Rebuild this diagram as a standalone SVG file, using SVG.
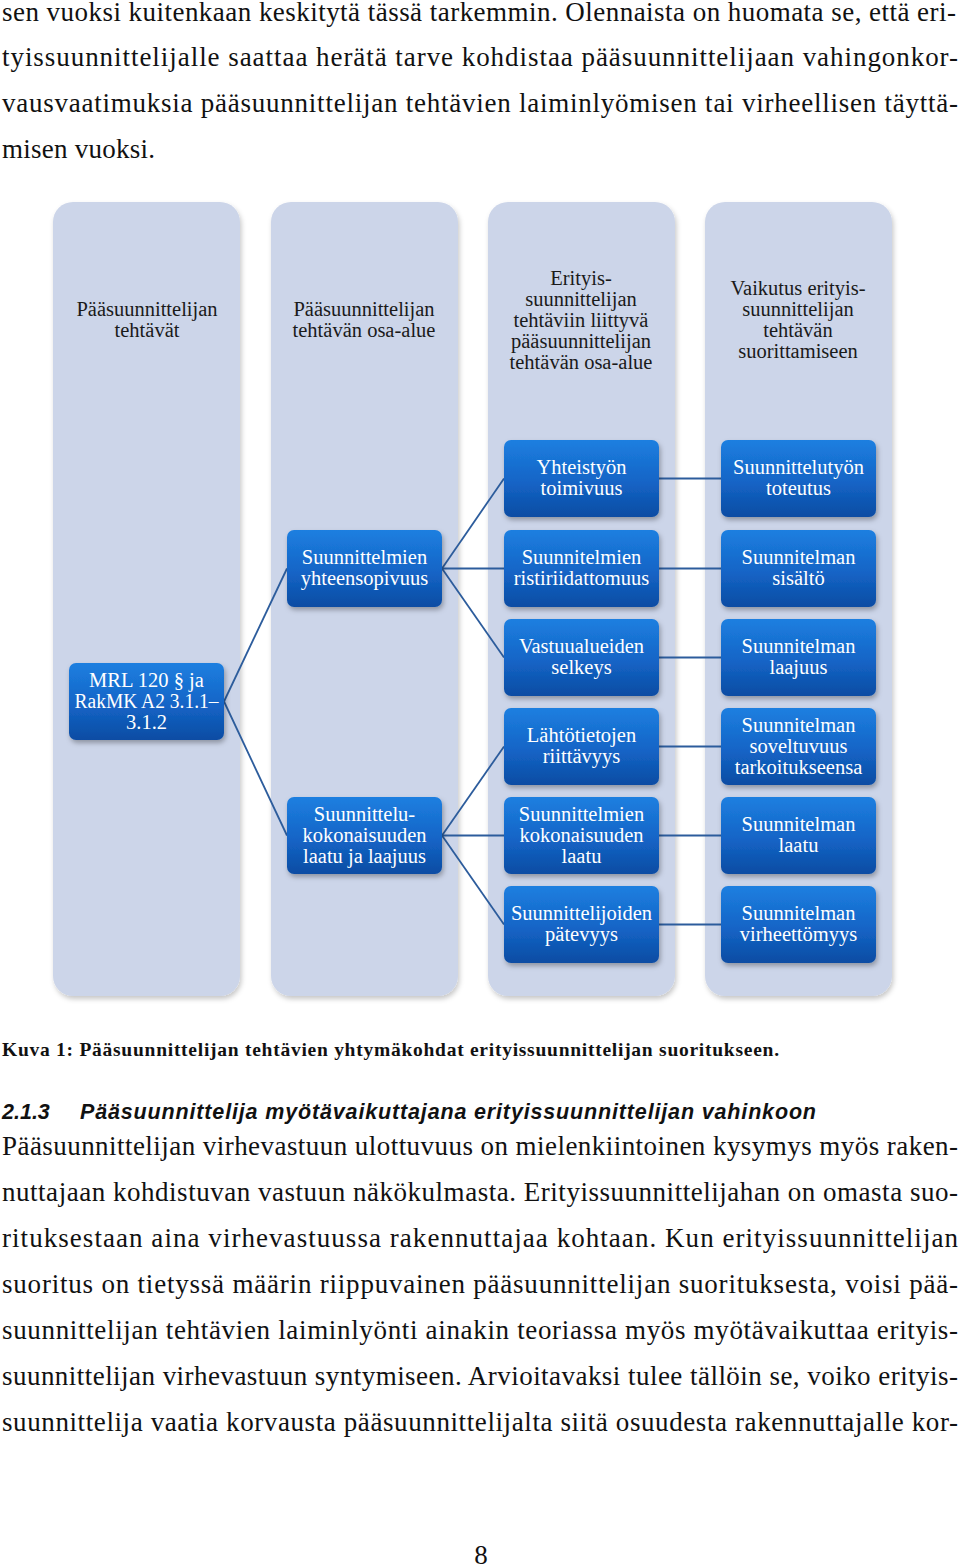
<svg xmlns="http://www.w3.org/2000/svg" width="960" height="1568" viewBox="0 0 960 1568">
<style>
.body{font-family:"Liberation Serif","Times New Roman",serif;font-size:27px;fill:#111}
.cap{font-family:"Liberation Serif","Times New Roman",serif;font-size:19.5px;font-weight:bold;fill:#111}
.hd{font-family:"Liberation Sans",Arial,sans-serif;font-size:21.5px;font-weight:bold;font-style:italic;fill:#111}
.col{fill:#ccd5e9}
.ct{font-family:"Liberation Serif","Times New Roman",serif;font-size:20.5px;fill:#1a1a1a;text-anchor:middle}
.nt{font-family:"Liberation Serif","Times New Roman",serif;font-size:20.5px;fill:#ffffff;text-anchor:middle}
.node{fill:url(#ng)}
.conn line{stroke:#2c5c9c;stroke-width:1.8}
</style>
<defs>
<linearGradient id="ng" x1="0" y1="0" x2="0" y2="1">
<stop offset="0" stop-color="#1d7fe0"/>
<stop offset="0.55" stop-color="#1464c6"/>
<stop offset="1" stop-color="#0b4ca3"/>
</linearGradient>
<filter id="sh" x="-10%" y="-10%" width="125%" height="125%">
<feDropShadow dx="1.5" dy="3" stdDeviation="2.5" flood-color="#000" flood-opacity="0.3"/>
</filter>
<filter id="csh" x="-10%" y="-5%" width="125%" height="115%">
<feDropShadow dx="1.5" dy="3" stdDeviation="2.5" flood-color="#000" flood-opacity="0.22"/>
</filter>
</defs>
<rect width="960" height="1568" fill="#ffffff"/>

<g id="text-top">
<text class="body" x="2" y="21" textLength="954" lengthAdjust="spacing">sen vuoksi kuitenkaan keskitytä tässä tarkemmin. Olennaista on huomata se, että eri-</text>
<text class="body" x="2" y="66" textLength="956" lengthAdjust="spacing">tyissuunnittelijalle saattaa herätä tarve kohdistaa pääsuunnittelijaan vahingonkor-</text>
<text class="body" x="2" y="112" textLength="956" lengthAdjust="spacing">vausvaatimuksia pääsuunnittelijan tehtävien laiminlyömisen tai virheellisen täyttä-</text>
<text class="body" x="2" y="158" textLength="153" lengthAdjust="spacing">misen vuoksi.</text>
</g>

<g id="columns">
<g id="col1"><rect class="col" x="53" y="202" width="187" height="794" rx="20" filter="url(#csh)"/>
<text class="ct" x="147" y="316">Pääsuunnittelijan</text><text class="ct" x="147" y="337">tehtävät</text></g>
<g id="col2"><rect class="col" x="271" y="202" width="187" height="794" rx="20" filter="url(#csh)"/>
<text class="ct" x="364" y="316">Pääsuunnittelijan</text><text class="ct" x="364" y="337">tehtävän osa-alue</text></g>
<g id="col3"><rect class="col" x="488" y="202" width="187" height="794" rx="20" filter="url(#csh)"/>
<text class="ct" x="581" y="285">Erityis-</text><text class="ct" x="581" y="306">suunnittelijan</text><text class="ct" x="581" y="327">tehtäviin liittyvä</text><text class="ct" x="581" y="348">pääsuunnittelijan</text><text class="ct" x="581" y="369">tehtävän osa-alue</text></g>
<g id="col4"><rect class="col" x="705" y="202" width="187" height="794" rx="20" filter="url(#csh)"/>
<text class="ct" x="798" y="295">Vaikutus erityis-</text><text class="ct" x="798" y="316">suunnittelijan</text><text class="ct" x="798" y="337">tehtävän</text><text class="ct" x="798" y="358">suorittamiseen</text></g>
</g>

<g id="connectors" class="conn">
<line x1="224" y1="701.5" x2="287" y2="568.5"/>
<line x1="224" y1="701.5" x2="287" y2="835.5"/>
<line x1="442" y1="568.5" x2="504" y2="478.5"/>
<line x1="442" y1="568.5" x2="504" y2="568.5"/>
<line x1="442" y1="568.5" x2="504" y2="657.5"/>
<line x1="442" y1="835.5" x2="504" y2="746.5"/>
<line x1="442" y1="835.5" x2="504" y2="835.5"/>
<line x1="442" y1="835.5" x2="504" y2="924.5"/>
<line x1="659" y1="478.5" x2="721" y2="478.5"/>
<line x1="659" y1="568.5" x2="721" y2="568.5"/>
<line x1="659" y1="657.5" x2="721" y2="657.5"/>
<line x1="659" y1="746.5" x2="721" y2="746.5"/>
<line x1="659" y1="835.5" x2="721" y2="835.5"/>
<line x1="659" y1="924.5" x2="721" y2="924.5"/>
</g>

<g id="n-mrl"><rect class="node" x="69" y="663" width="155" height="77" rx="7" filter="url(#sh)"/>
<text class="nt" x="146.5" y="687">MRL 120 § ja</text><text class="nt" x="146.5" y="708" textLength="144" lengthAdjust="spacingAndGlyphs">RakMK A2 3.1.1–</text><text class="nt" x="146.5" y="729">3.1.2</text></g>

<g id="n-yhteensopivuus"><rect class="node" x="287" y="530" width="155" height="77" rx="7" filter="url(#sh)"/>
<text class="nt" x="364.5" y="564">Suunnittelmien</text><text class="nt" x="364.5" y="585">yhteensopivuus</text></g>
<g id="n-kokonaisuus"><rect class="node" x="287" y="797" width="155" height="77" rx="7" filter="url(#sh)"/>
<text class="nt" x="364.5" y="821">Suunnittelu-</text><text class="nt" x="364.5" y="842">kokonaisuuden</text><text class="nt" x="364.5" y="863">laatu ja laajuus</text></g>

<g id="n-yhteistyo"><rect class="node" x="504" y="440" width="155" height="77" rx="7" filter="url(#sh)"/>
<text class="nt" x="581.5" y="474">Yhteistyön</text><text class="nt" x="581.5" y="495">toimivuus</text></g>
<g id="n-ristiriidattomuus"><rect class="node" x="504" y="530" width="155" height="77" rx="7" filter="url(#sh)"/>
<text class="nt" x="581.5" y="564">Suunnitelmien</text><text class="nt" x="581.5" y="585">ristiriidattomuus</text></g>
<g id="n-vastuualueet"><rect class="node" x="504" y="619" width="155" height="77" rx="7" filter="url(#sh)"/>
<text class="nt" x="581.5" y="653">Vastuualueiden</text><text class="nt" x="581.5" y="674">selkeys</text></g>
<g id="n-lahtotiedot"><rect class="node" x="504" y="708" width="155" height="77" rx="7" filter="url(#sh)"/>
<text class="nt" x="581.5" y="742">Lähtötietojen</text><text class="nt" x="581.5" y="763">riittävyys</text></g>
<g id="n-kokonaisuuden-laatu"><rect class="node" x="504" y="797" width="155" height="77" rx="7" filter="url(#sh)"/>
<text class="nt" x="581.5" y="821">Suunnittelmien</text><text class="nt" x="581.5" y="842">kokonaisuuden</text><text class="nt" x="581.5" y="863">laatu</text></g>
<g id="n-patevyys"><rect class="node" x="504" y="886" width="155" height="77" rx="7" filter="url(#sh)"/>
<text class="nt" x="581.5" y="920">Suunnittelijoiden</text><text class="nt" x="581.5" y="941">pätevyys</text></g>

<g id="n-toteutus"><rect class="node" x="721" y="440" width="155" height="77" rx="7" filter="url(#sh)"/>
<text class="nt" x="798.5" y="474">Suunnittelutyön</text><text class="nt" x="798.5" y="495">toteutus</text></g>
<g id="n-sisalto"><rect class="node" x="721" y="530" width="155" height="77" rx="7" filter="url(#sh)"/>
<text class="nt" x="798.5" y="564">Suunnitelman</text><text class="nt" x="798.5" y="585">sisältö</text></g>
<g id="n-laajuus"><rect class="node" x="721" y="619" width="155" height="77" rx="7" filter="url(#sh)"/>
<text class="nt" x="798.5" y="653">Suunnitelman</text><text class="nt" x="798.5" y="674">laajuus</text></g>
<g id="n-soveltuvuus"><rect class="node" x="721" y="708" width="155" height="77" rx="7" filter="url(#sh)"/>
<text class="nt" x="798.5" y="732">Suunnitelman</text><text class="nt" x="798.5" y="753">soveltuvuus</text><text class="nt" x="798.5" y="774">tarkoitukseensa</text></g>
<g id="n-laatu"><rect class="node" x="721" y="797" width="155" height="77" rx="7" filter="url(#sh)"/>
<text class="nt" x="798.5" y="831">Suunnitelman</text><text class="nt" x="798.5" y="852">laatu</text></g>
<g id="n-virheettomyys"><rect class="node" x="721" y="886" width="155" height="77" rx="7" filter="url(#sh)"/>
<text class="nt" x="798.5" y="920">Suunnitelman</text><text class="nt" x="798.5" y="941">virheettömyys</text></g>

<g id="text-bottom">
<text class="cap" x="2" y="1056" textLength="777" lengthAdjust="spacing">Kuva 1: Pääsuunnittelijan tehtävien yhtymäkohdat erityissuunnittelijan suoritukseen.</text>
<text class="hd" x="2" y="1119">2.1.3</text>
<text class="hd" x="80" y="1119" textLength="736" lengthAdjust="spacing">Pääsuunnittelija myötävaikuttajana erityissuunnittelijan vahinkoon</text>
<text class="body" x="2" y="1155" textLength="956" lengthAdjust="spacing">Pääsuunnittelijan virhevastuun ulottuvuus on mielenkiintoinen kysymys myös raken-</text>
<text class="body" x="2" y="1201" textLength="956" lengthAdjust="spacing">nuttajaan kohdistuvan vastuun näkökulmasta. Erityissuunnittelijahan on omasta suo-</text>
<text class="body" x="2" y="1247" textLength="956" lengthAdjust="spacing">rituksestaan aina virhevastuussa rakennuttajaa kohtaan. Kun erityissuunnittelijan</text>
<text class="body" x="2" y="1293" textLength="956" lengthAdjust="spacing">suoritus on tietyssä määrin riippuvainen pääsuunnittelijan suorituksesta, voisi pää-</text>
<text class="body" x="2" y="1339" textLength="956" lengthAdjust="spacing">suunnittelijan tehtävien laiminlyönti ainakin teoriassa myös myötävaikuttaa erityis-</text>
<text class="body" x="2" y="1385" textLength="956" lengthAdjust="spacing">suunnittelijan virhevastuun syntymiseen. Arvioitavaksi tulee tällöin se, voiko erityis-</text>
<text class="body" x="2" y="1431" textLength="956" lengthAdjust="spacing">suunnittelija vaatia korvausta pääsuunnittelijalta siitä osuudesta rakennuttajalle kor-</text>
<text class="body" x="481" y="1564" text-anchor="middle">8</text>
</g>
</svg>
